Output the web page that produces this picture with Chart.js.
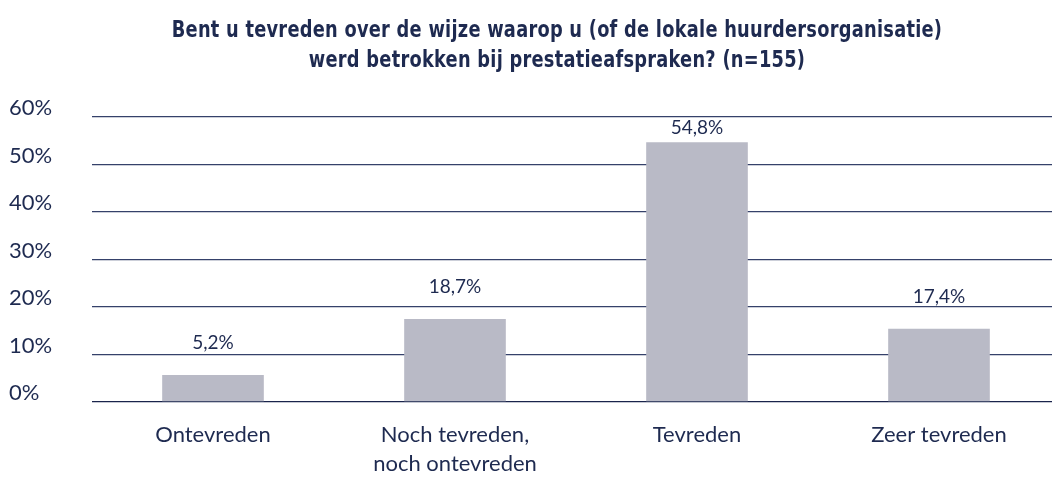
<!DOCTYPE html>
<html>
<head>
<meta charset="utf-8">
<script src="https://cdn.jsdelivr.net/npm/chart.js@4.4.1/dist/chart.umd.min.js"></script>
<style>
  html, body { margin: 0; padding: 0; background: #fff; overflow: hidden; }
  #wrap { position: relative; width: 1060px; height: 493px; }
  #title {
    position: absolute; top: 14px; left: 0; width: 1114px;
    text-align: center; color: #1e2a50;
    font: bold 23px 'DejaVu Sans Condensed', 'Liberation Sans Narrow', sans-serif;
    line-height: 30px; letter-spacing: 0.3px;
    transform: scaleX(0.86); transform-origin: 557px 0;
  }
</style>
</head>
<body>
<div id="wrap">
  <div id="title">Bent u tevreden over de wijze waarop u (of de lokale huurdersorganisatie)<br>werd betrokken bij prestatieafspraken? (n=155)</div>
  <canvas id="chart" width="1060" height="493"></canvas>
</div>
<script>
const categories = [
  'Ontevreden',
  ['Noch tevreden,', 'noch ontevreden'],
  'Tevreden',
  'Zeer tevreden',
]
// bar heights as drawn in the picture (percent)
const barValues = [5.7, 17.5, 54.7, 15.4]
// value labels printed above the bars
const valueLabels = ['5,2%', '18,7%', '54,8%', '17,4%']
const yTicks = [0, 10, 20, 30, 40, 50, 60]

const NAVY = '#1e2a50'

const valueLabelPlugin = {
  id: 'valueLabels',
  afterDatasetsDraw(chart) {
    const { ctx, chartArea } = chart
    const meta = chart.getDatasetMeta(0)
    ctx.save()
    ctx.font = '19px Lato'
    ctx.fillStyle = NAVY
    ctx.textAlign = 'center'
    ctx.textBaseline = 'middle'
    meta.data.forEach((bar, i) => {
      const y = Math.max(bar.y - 32, chartArea.top + 11)
      ctx.fillText(valueLabels[i], bar.x, y)
    })
    ctx.restore()
  },
}

new Chart(document.getElementById('chart'), {
  type: 'bar',
  data: {
    labels: categories,
    datasets: [
      {
        data: barValues,
        backgroundColor: '#b9bac6',
        barPercentage: 0.42,
        categoryPercentage: 1,
      },
    ],
  },
  options: {
    responsive: false,
    animation: false,
    layout: { padding: { top: 117, left: 9, right: 0, bottom: 0 } },
    plugins: {
      legend: { display: false },
      tooltip: { enabled: false },
    },
    scales: {
      x: {
        grid: { display: false },
        border: { display: false },
        ticks: {
          color: NAVY,
          font: { family: 'Lato', size: 22, lineHeight: 1.3 },
          padding: 11,
          maxRotation: 0,
          autoSkip: false,
        },
        afterFit: (scale) => { scale.height = 91 },
      },
      y: {
        min: 0,
        max: 60,
        afterBuildTicks: (scale) => { scale.ticks = yTicks.map((v) => ({ value: v })) },
        grid: {
          drawTicks: false,
          color: (c) => (c.tick && c.tick.value === 0 ? '#1a244c' : '#35416a'),
          lineWidth: 1.3,
        },
        border: { display: false },
        ticks: {
          color: NAVY,
          font: { family: 'Lato', size: 22 },
          crossAlign: 'far',
          padding: 0,
          labelOffset: -9,
          callback: (v) => v + '%',
        },
        afterFit: (scale) => { scale.width = 83 },
      },
    },
  },
  plugins: [valueLabelPlugin],
})
</script>
</body>
</html>
